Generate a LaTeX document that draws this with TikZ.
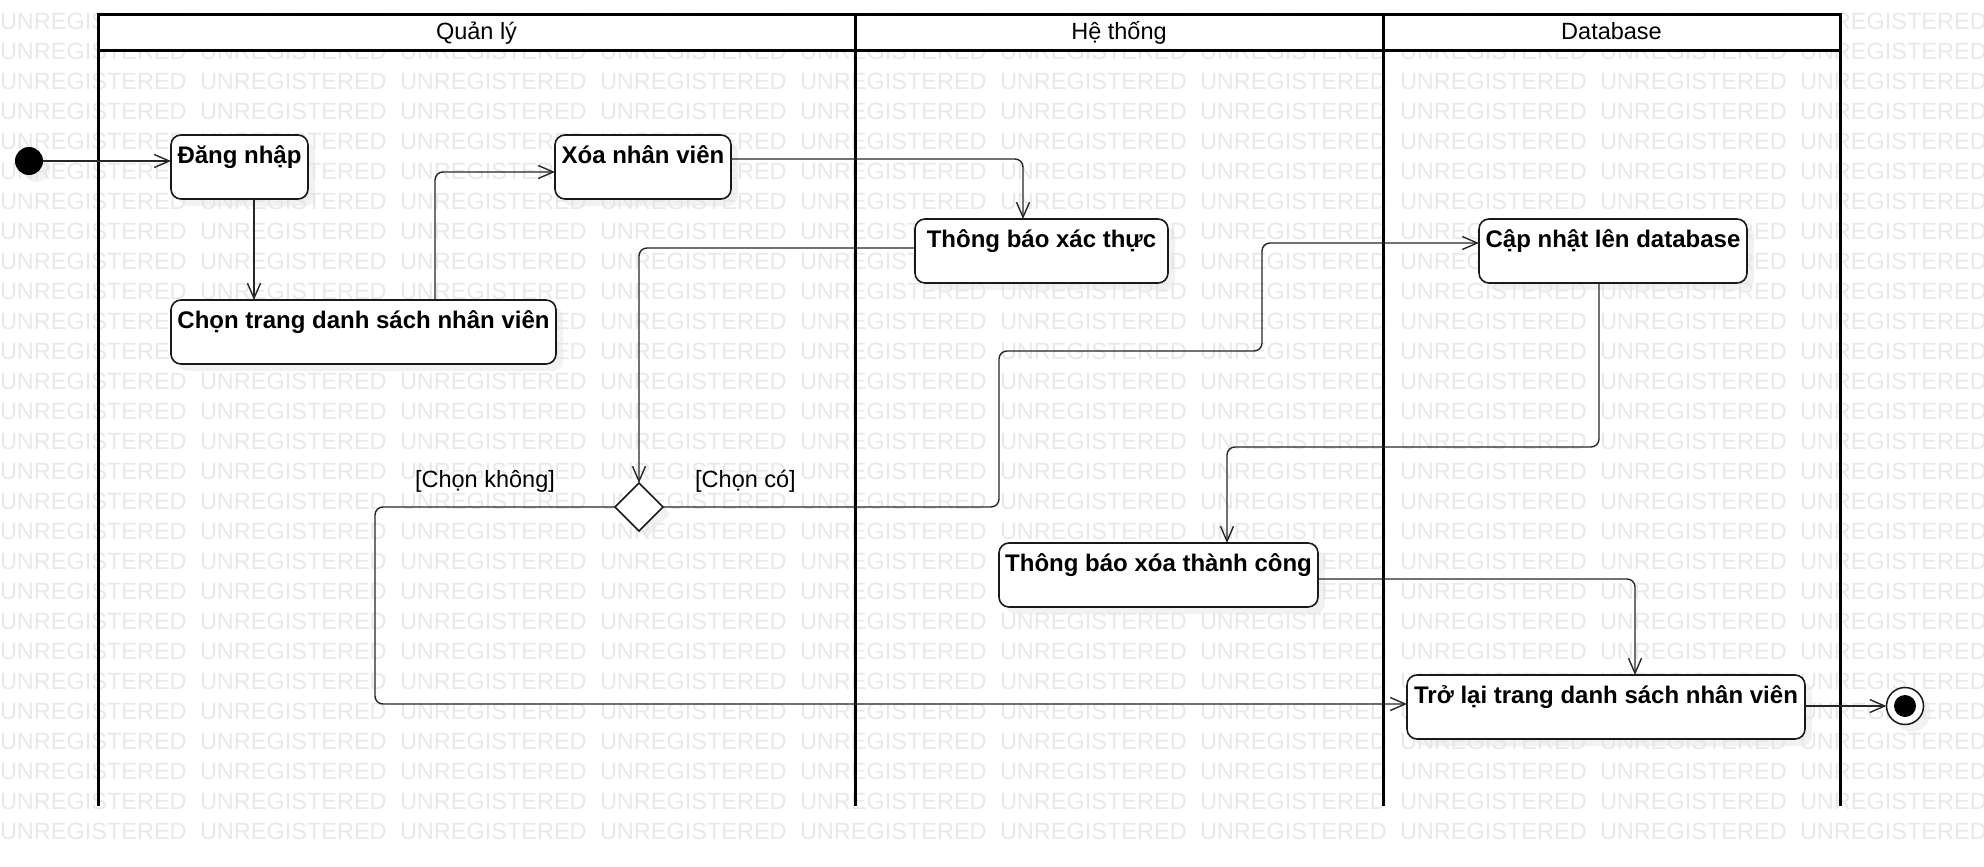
\documentclass[tikz,border=0pt]{standalone}
\usepackage{fontspec}
\setmainfont{Liberation Sans}
\usetikzlibrary{arrows.meta,shapes.geometric,shadows}

\begin{document}
\begin{tikzpicture}[x=1pt,y=-1pt,
  every node/.style={inner sep=0pt, outer sep=0pt},
  txt/.style={font=\fontsize{23.5}{28}\selectfont},
  watermark/.style={font=\fontsize{23.5}{28}\selectfont, text=black!9, anchor=base west},
  lane/.style={draw=black, line width=3pt},
  shade/.style={drop shadow={shadow xshift=7pt, shadow yshift=-7pt, fill=black!10}},
  actbox/.style={draw=black!90, fill=white, line width=1.6pt, rounded corners=10pt,
    anchor=north west, text height=28pt, text depth=36pt,
    font=\fontsize{24}{28}\selectfont\bfseries, shade},
  flow/.style={draw=black!85, line width=1.4pt, rounded corners=8pt,
    -{Straight Barb[length=15pt,width=13pt,line width=1.4pt]}}
]
\useasboundingbox (0,0) rectangle (1984,867);

% background watermark rows
\foreach \r in {0,...,27}
  \foreach \c in {0,...,9}
    \node[watermark] (wm-\r-\c) at (\c*200, 29.5+\r*30) {UNREGISTERED};

% swimlane frame
\fill[white] (98,15) rectangle (1840,51);
\draw[lane] (98,806) -- (98,15) -- (1840,15) -- (1840,806);
\draw[lane] (98,51) -- (1840,51);
\draw[lane] (855,15) -- (855,806);
\draw[lane] (1383,15) -- (1383,806);

\node[txt, anchor=base] (laneQL) at (476.5,40) {Quản lý};
\node[txt, anchor=base] (laneHT) at (1119,40) {Hệ thống};
\node[txt, anchor=base] (laneDB) at (1611.5,40) {Database};

% activities
\node[circle, fill=black, minimum size=28pt, shade] (init) at (29,161) {};
\node[actbox, minimum width=137pt] (dang) at (171,135) {Đăng nhập};
\node[actbox, minimum width=385pt] (chon) at (171,300) {Chọn trang danh sách nhân viên};
\node[actbox, minimum width=176pt] (xoa) at (555,135) {Xóa nhân viên};
\node[actbox, minimum width=253pt] (xacthuc) at (915,219) {Thông báo xác thực};
\node[actbox, minimum width=268pt] (capnhat) at (1479,219) {Cập nhật lên database};
\node[actbox, minimum width=319pt] (xoatc) at (999,543) {Thông báo xóa thành công};
\node[actbox, minimum width=398pt] (trolai) at (1407,675) {Trở lại trang danh sách nhân viên};
\node[diamond, draw=black!90, fill=white, line width=1.5pt, minimum width=48pt,
  minimum height=48pt, shade] (dec) at (639,507) {};
\node[circle, draw=black!90, fill=white, line width=1.5pt, minimum size=37pt, shade] (fin) at (1905,706) {};
\node[circle, fill=black, minimum size=22pt] (fincore) at (fin) {};

% guards
\node[txt, anchor=base] (gNo) at (485,487) {[Chọn không]};
\node[txt, anchor=base] (gYes) at (745.5,487) {[Chọn có]};

% routing points
\coordinate (cB) at (254,0);
\coordinate (cC) at (435,172);
\coordinate (cD) at (1023,159);
\coordinate (cE) at (639,248);
\coordinate (f1) at (999,351);
\coordinate (f2) at (1262,243);
\coordinate (g1) at (375,704);
\coordinate (h1) at (1599,447);
\coordinate (h2) at (1227,447);
\coordinate (i1) at (1635,579);

% transitions
\draw[flow] (init.east) -- (init.east -| dang.west);
\draw[flow] (dang.south -| cB) -- (chon.north -| cB);
\draw[flow] (chon.north -| cC) |- (xoa.west |- cC);
\draw[flow] (xoa.east |- cD) -| (xacthuc.north -| cD);
\draw[flow] (xacthuc.west |- cE) -| (dec.north);
\draw[flow] (dec.east) -| (f1) -| (f2) -- (capnhat.west |- f2);
\draw[flow] (dec.west) -| (g1) -- (trolai.west |- g1);
\draw[flow] (capnhat.south -| h1) -- (h1) -- (h2) -- (xoatc.north -| h2);
\draw[flow] (xoatc.east |- i1) -| (trolai.north -| i1);
\draw[flow] (trolai.east |- fin.west) -- (fin.west);
\end{tikzpicture}
\end{document}
